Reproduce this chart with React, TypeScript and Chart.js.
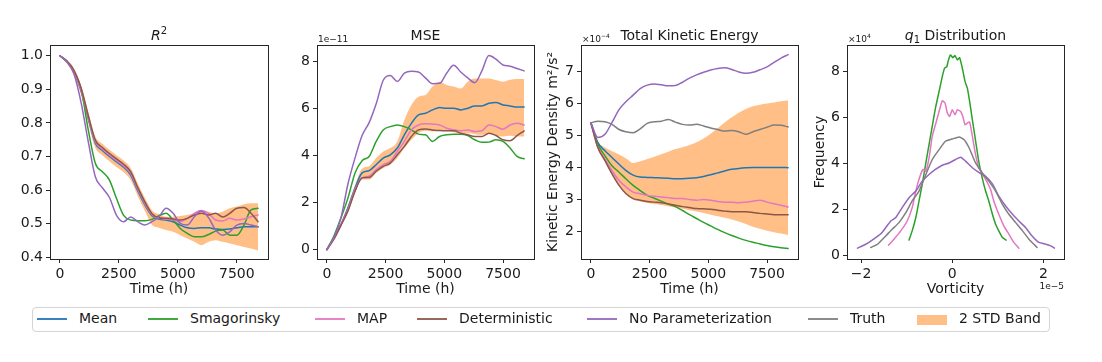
import React, { useEffect, useRef } from "react";
import { Chart, registerables } from "chart.js";
Chart.register(...registerables);

const FONT = "'DejaVu Sans', sans-serif";
const INK = "#1a1a1a";

// ---------- shared axes ----------
const TIME_H = [0, 300, 600, 900, 1200, 1500, 1800, 2100, 2400, 2700, 3000, 3300, 3600, 3900, 4200, 4500, 4800, 5100, 5400, 5700, 6000, 6300, 6600, 6900, 7200, 7500, 7800, 8100, 8400];
const TIME_TICKS = [0, 2500, 5000, 7500];
const TIME_TICK_LABELS = ["0", "2500", "5000", "7500"];

// ---------- R^2 ----------
const R2_MEAN = [1.0, 0.982, 0.951, 0.895, 0.814, 0.74, 0.718, 0.7, 0.684, 0.668, 0.645, 0.598, 0.556, 0.524, 0.514, 0.511, 0.506, 0.496, 0.488, 0.486, 0.488, 0.488, 0.484, 0.483, 0.484, 0.488, 0.491, 0.491, 0.491];
const R2_SMAG = [1.0, 0.982, 0.952, 0.9, 0.78, 0.68, 0.655, 0.63, 0.575, 0.525, 0.511, 0.509, 0.509, 0.513, 0.524, 0.531, 0.511, 0.486, 0.471, 0.461, 0.461, 0.468, 0.478, 0.481, 0.466, 0.466, 0.496, 0.541, 0.546];
const R2_MAP = [1.0, 0.983, 0.953, 0.899, 0.818, 0.744, 0.722, 0.704, 0.688, 0.672, 0.65, 0.603, 0.56, 0.527, 0.516, 0.514, 0.511, 0.506, 0.516, 0.531, 0.539, 0.531, 0.511, 0.508, 0.516, 0.511, 0.514, 0.521, 0.526];
const R2_DET = [1.0, 0.984, 0.956, 0.903, 0.823, 0.749, 0.727, 0.709, 0.693, 0.677, 0.655, 0.608, 0.565, 0.53, 0.518, 0.516, 0.514, 0.511, 0.516, 0.526, 0.531, 0.526, 0.531, 0.52, 0.531, 0.546, 0.548, 0.531, 0.506];
const R2_NOPAR = [1.0, 0.982, 0.945, 0.86, 0.745, 0.64, 0.607, 0.578, 0.525, 0.506, 0.52, 0.506, 0.496, 0.506, 0.521, 0.546, 0.531, 0.501, 0.496, 0.521, 0.538, 0.518, 0.481, 0.466, 0.476, 0.496, 0.501, 0.496, 0.491];
const R2_BAND_UP = [1.0, 0.988, 0.962, 0.912, 0.834, 0.76, 0.738, 0.72, 0.704, 0.688, 0.666, 0.62, 0.577, 0.54, 0.528, 0.521, 0.521, 0.523, 0.526, 0.531, 0.538, 0.536, 0.531, 0.536, 0.546, 0.551, 0.558, 0.561, 0.561];
const R2_BAND_LO = [1.0, 0.976, 0.942, 0.883, 0.8, 0.726, 0.704, 0.686, 0.669, 0.653, 0.63, 0.582, 0.538, 0.497, 0.488, 0.481, 0.476, 0.466, 0.456, 0.446, 0.436, 0.446, 0.451, 0.446, 0.441, 0.436, 0.431, 0.426, 0.42];
const R2_TICKS = [0.4, 0.5, 0.6, 0.7, 0.8, 0.9, 1.0];
const R2_TICK_LABELS = ["0.4", "0.5", "0.6", "0.7", "0.8", "0.9", "1.0"];

// ---------- MSE (x 1e-11) ----------
const MSE_MEAN = [0, 0.51, 1.07, 1.78, 2.62, 3.26, 3.36, 3.61, 3.89, 4.03, 4.32, 4.88, 5.37, 5.73, 5.8, 5.94, 6.04, 6.01, 6.01, 5.94, 6.01, 6.11, 6.11, 6.22, 6.26, 6.15, 6.11, 6.06, 6.06];
const MSE_SMAG = [0, 0.58, 1.35, 2.2, 3.26, 3.78, 3.96, 4.6, 5.09, 5.23, 5.3, 5.23, 5.09, 4.91, 4.88, 4.6, 4.81, 4.88, 4.91, 4.91, 4.85, 4.67, 4.56, 4.57, 4.67, 4.6, 4.32, 3.96, 3.86];
const MSE_MAP = [0, 0.46, 1.05, 1.7, 2.55, 3.05, 3.12, 3.4, 3.61, 3.75, 4.17, 4.6, 5.09, 5.3, 5.35, 5.33, 5.3, 5.16, 5.09, 5.05, 5.09, 5.02, 5.05, 5.3, 5.23, 5.12, 5.3, 5.37, 5.3];
const MSE_DET = [0, 0.44, 1.03, 1.64, 2.48, 3.05, 3.07, 3.33, 3.54, 3.68, 4.03, 4.39, 4.81, 5.09, 5.13, 5.09, 5.06, 5.05, 5.05, 4.95, 4.88, 4.81, 4.81, 4.95, 4.85, 4.67, 4.63, 4.85, 5.05];
const MSE_NOPAR = [0, 0.51, 1.35, 2.8, 3.9, 4.85, 5.4, 6.2, 7.2, 7.4, 7.15, 7.5, 7.58, 7.55, 7.3, 7.05, 7.07, 7.5, 7.84, 7.55, 7.3, 7.1, 7.6, 8.25, 8.1, 7.85, 7.8, 7.7, 7.6];
const MSE_BAND_UP = [0, 0.55, 1.15, 1.9, 2.75, 3.44, 3.54, 3.89, 4.17, 4.32, 4.6, 5.51, 6.15, 6.5, 6.57, 6.93, 7.14, 7.0, 6.93, 6.85, 7.14, 7.28, 7.28, 7.28, 7.21, 7.14, 7.22, 7.25, 7.25];
const MSE_BAND_LO = [0, 0.42, 1.0, 1.6, 2.4, 2.98, 2.98, 3.26, 3.47, 3.61, 3.89, 4.32, 4.67, 4.95, 5.05, 5.02, 5.05, 5.05, 4.99, 4.95, 4.95, 4.91, 4.88, 4.95, 4.85, 4.81, 4.84, 4.81, 4.81];
const MSE_TICKS = [0, 2, 4, 6, 8];
const MSE_TICK_LABELS = ["0", "2", "4", "6", "8"];

// ---------- Total kinetic energy (x 1e-4) ----------
const KE_MEAN = [5.39, 4.77, 4.52, 4.31, 4.1, 3.9, 3.76, 3.7, 3.69, 3.68, 3.67, 3.66, 3.65, 3.65, 3.66, 3.68, 3.72, 3.77, 3.83, 3.89, 3.94, 3.97, 3.99, 4.0, 4.0, 4.0, 4.0, 4.0, 3.99];
const KE_SMAG = [5.39, 4.72, 4.36, 4.05, 3.85, 3.64, 3.44, 3.28, 3.13, 3.04, 2.95, 2.86, 2.78, 2.66, 2.53, 2.41, 2.29, 2.18, 2.07, 1.97, 1.88, 1.8, 1.73, 1.67, 1.62, 1.57, 1.53, 1.5, 1.48];
const KE_MAP = [5.39, 4.62, 4.26, 3.9, 3.59, 3.39, 3.23, 3.18, 3.13, 3.1, 3.08, 3.06, 3.03, 3.03, 3.0, 2.98, 3.0, 2.98, 2.94, 2.92, 2.92, 2.9, 2.92, 2.95, 2.98, 2.92, 2.87, 2.82, 2.77];
const KE_DET = [5.39, 4.62, 4.21, 3.8, 3.44, 3.18, 3.03, 2.98, 2.94, 2.92, 2.9, 2.86, 2.82, 2.78, 2.75, 2.72, 2.71, 2.7, 2.67, 2.64, 2.62, 2.62, 2.62, 2.6, 2.57, 2.55, 2.53, 2.53, 2.53];
const KE_NOPAR = [5.39, 4.93, 5.03, 5.4, 5.8, 6.05, 6.25, 6.45, 6.56, 6.6, 6.57, 6.54, 6.55, 6.65, 6.78, 6.88, 6.96, 7.03, 7.08, 7.1, 7.05, 6.97, 6.93, 6.96, 7.04, 7.13, 7.27, 7.4, 7.51];
const KE_TRUTH = [5.39, 5.44, 5.42, 5.34, 5.18, 5.11, 5.08, 5.2, 5.37, 5.42, 5.44, 5.49, 5.41, 5.34, 5.32, 5.34, 5.29, 5.23, 5.18, 5.13, 5.15, 5.11, 5.03, 5.11, 5.18, 5.25, 5.32, 5.31, 5.26];
const KE_BAND_UP = [5.39, 4.8, 4.62, 4.5, 4.4, 4.28, 4.14, 4.19, 4.26, 4.33, 4.41, 4.49, 4.57, 4.63, 4.7, 4.78, 4.9, 5.05, 5.22, 5.4, 5.56, 5.7, 5.82, 5.9, 5.95, 5.99, 6.02, 6.06, 6.08];
const KE_BAND_LO = [5.39, 4.55, 4.18, 3.78, 3.42, 3.16, 3.0, 2.94, 2.89, 2.86, 2.83, 2.79, 2.75, 2.71, 2.67, 2.63, 2.58, 2.53, 2.48, 2.43, 2.38, 2.32, 2.24, 2.15, 2.09, 2.03, 1.98, 1.94, 1.9];
const KE_TICKS = [2, 3, 4, 5, 6, 7];
const KE_TICK_LABELS = ["2", "3", "4", "5", "6", "7"];

// ---------- q1 distribution (x: 1e-5, y: 1e4) ----------
const Q1_SMAG_X = [-0.95, -0.88, -0.8, -0.73, -0.66, -0.58, -0.51, -0.44, -0.37, -0.29, -0.22, -0.17, -0.12, -0.09, -0.04, 0.01, 0.06, 0.11, 0.16, 0.22, 0.28, 0.33, 0.38, 0.44, 0.51, 0.58, 0.66, 0.73, 0.8, 0.88, 0.95, 1.02, 1.1, 1.18];
const Q1_SMAG_Y = [0.68, 1.08, 1.66, 2.38, 3.1, 4.03, 4.83, 5.62, 6.41, 7.13, 7.78, 8.14, 8.21, 8.46, 8.72, 8.6, 8.69, 8.5, 8.6, 8.14, 7.56, 7.28, 6.7, 5.9, 5.0, 4.1, 3.35, 2.81, 2.38, 1.8, 1.37, 1.08, 0.79, 0.68];
const Q1_MAP_X = [-1.4, -1.28, -1.13, -0.99, -0.88, -0.8, -0.72, -0.64, -0.58, -0.51, -0.44, -0.37, -0.29, -0.22, -0.16, -0.11, -0.06, 0.0, 0.06, 0.11, 0.18, 0.23, 0.28, 0.33, 0.38, 0.44, 0.51, 0.58, 0.69, 0.77, 0.84, 0.91, 1.02, 1.13, 1.24, 1.35, 1.46];
const Q1_MAP_Y = [0.46, 0.72, 1.08, 1.51, 2.09, 2.81, 3.39, 3.75, 3.67, 4.25, 5.19, 5.69, 6.27, 6.73, 6.63, 6.2, 6.05, 6.34, 6.12, 6.34, 6.27, 6.05, 5.69, 5.76, 5.81, 5.19, 4.39, 3.82, 3.46, 3.17, 2.88, 2.38, 1.8, 1.3, 0.94, 0.58, 0.33];
const Q1_NOPAR_X = [-2.08, -1.9, -1.68, -1.54, -1.35, -1.24, -1.1, -0.95, -0.8, -0.66, -0.51, -0.37, -0.22, -0.07, 0.07, 0.18, 0.29, 0.44, 0.58, 0.73, 0.88, 1.02, 1.17, 1.32, 1.46, 1.61, 1.75, 1.9, 2.05, 2.16, 2.24];
const Q1_NOPAR_Y = [0.33, 0.5, 0.79, 1.01, 1.51, 1.66, 2.09, 2.52, 2.81, 3.24, 3.53, 3.75, 3.93, 4.03, 4.18, 4.28, 4.11, 3.82, 3.62, 3.45, 3.12, 2.59, 2.16, 1.8, 1.51, 1.22, 0.86, 0.58, 0.5, 0.43, 0.33];
const Q1_TRUTH_X = [-1.79, -1.64, -1.46, -1.32, -1.17, -1.02, -0.88, -0.73, -0.58, -0.44, -0.29, -0.15, 0.0, 0.15, 0.26, 0.37, 0.51, 0.66, 0.8, 0.95, 1.1, 1.24, 1.39, 1.54, 1.68, 1.79, 1.86];
const Q1_TRUTH_Y = [0.36, 0.5, 0.86, 1.15, 1.44, 1.87, 2.38, 2.81, 3.53, 4.18, 4.61, 4.97, 5.07, 5.16, 5.04, 4.68, 4.03, 3.6, 3.24, 2.81, 2.23, 1.8, 1.44, 1.08, 0.72, 0.5, 0.36];
const Q1_X_TICKS = [-2, 0, 2];
const Q1_X_TICK_LABELS = ["\u22122", "0", "2"];
const Q1_Y_TICKS = [0, 2, 4, 6, 8];
const Q1_Y_TICK_LABELS = ["0", "2", "4", "6", "8"];

// ---------- labels ----------
type Seg = { t: string; it?: boolean; sup?: boolean; sub?: boolean };
const TITLE_R2: Seg[] = [{ t: "R", it: true }, { t: "2", sup: true }];
const TITLE_MSE: Seg[] = [{ t: "MSE" }];
const TITLE_KE: Seg[] = [{ t: "Total Kinetic Energy" }];
const TITLE_Q1: Seg[] = [{ t: "q", it: true }, { t: "1", sub: true }, { t: " Distribution" }];
const OFFSET_MSE: Seg[] = [{ t: "1e\u221211" }];
const OFFSET_KE: Seg[] = [{ t: "\u00d710" }, { t: "\u22124", sup: true }];
const OFFSET_Q1_Y: Seg[] = [{ t: "\u00d710" }, { t: "4", sup: true }];
const OFFSET_Q1_X: Seg[] = [{ t: "1e\u22125" }];
const X_TITLE_TIME = "Time (h)";
const X_TITLE_VORT = "Vorticity";
const Y_TITLE_KE = "Kinetic Energy Density m\u00b2/s\u00b2";
const Y_TITLE_Q1 = "Frequency";

const SERIES = {
  mean: { label: "Mean", color: "#1f77b4" },
  smag: { label: "Smagorinsky", color: "#2ca02c" },
  map: { label: "MAP", color: "#e377c2" },
  det: { label: "Deterministic", color: "#8c564b" },
  nopar: { label: "No Parameterization", color: "#9467bd" },
  truth: { label: "Truth", color: "#7f7f7f" },
};
const BAND_LABEL = "2 STD Band";
const BAND_COLOR = "rgba(255,127,14,0.5)";
const LEGEND_ORDER = ["mean", "smag", "map", "det", "nopar", "truth"];

// ---------- layout (positions only) ----------
const LAYOUT = [
  { canvasLeft: 0, plotLeft: 50, plotRight: 268 },
  { canvasLeft: 280, plotLeft: 317, plotRight: 534 },
  { canvasLeft: 541, plotLeft: 581, plotRight: 798 },
  { canvasLeft: 808, plotLeft: 847, plotRight: 1064 },
];
const PLOT_TOP = 45;
const PLOT_BOTTOM = 259;
const CANVAS_H = 300;
const PAD_RIGHT = 30;
const LEGEND_X = [37, 148, 315, 417, 587, 808, 917];
const LINE_ALPHA = 0.9;

function drawSegs(ctx: CanvasRenderingContext2D, segs: Seg[], x: number, baseline: number, size: number, align: "center" | "left" | "right") {
  const small = Math.round(size * 0.72);
  const fontFor = (s: Seg) => `${s.it ? "italic " : ""}${s.sup || s.sub ? small : size}px ${FONT}`;
  let total = 0;
  for (const s of segs) {
    ctx.font = fontFor(s);
    total += ctx.measureText(s.t).width;
  }
  let cx = align === "center" ? x - total / 2 : align === "right" ? x - total : x;
  ctx.textAlign = "left";
  ctx.textBaseline = "alphabetic";
  ctx.fillStyle = INK;
  for (const s of segs) {
    ctx.font = fontFor(s);
    const dy = s.sup ? -size * 0.42 : s.sub ? size * 0.22 : 0;
    ctx.fillText(s.t, cx, baseline + dy);
    cx += ctx.measureText(s.t).width;
  }
}

const decorPlugin = {
  id: "decor",
  afterDraw(chart: any, _args: any, opts: any) {
    const { ctx, chartArea: a } = chart;
    ctx.save();
    ctx.strokeStyle = "#262626";
    ctx.lineWidth = 1;
    const l = Math.round(a.left) + 0.5;
    const t = Math.round(a.top) + 0.5;
    ctx.strokeRect(l, t, Math.round(a.right) - Math.round(a.left), Math.round(a.bottom) - Math.round(a.top));
    if (opts.title) drawSegs(ctx, opts.title, (a.left + a.right) / 2, a.top - 5, 14, "center");
    if (opts.offsetTop) drawSegs(ctx, opts.offsetTop, a.left + 1, a.top - 3, 9, "left");
    if (opts.offsetBottom) drawSegs(ctx, opts.offsetBottom, a.right, a.bottom + 30, 9, "right");
    ctx.restore();
  },
};

type PanelCfg = {
  idx: number;
  datasets: any[];
  xMin: number; xMax: number; xTicks: number[]; xLabels: string[]; xTitle: string;
  yMin: number; yMax: number; yTicks: number[]; yLabels: string[]; yTitle?: string;
  title: Seg[]; offsetTop?: Seg[]; offsetBottom?: Seg[];
};

function pts(xs: number[], ys: number[]) {
  return xs.map((x, i) => ({ x, y: ys[i] }));
}

function lineDs(key: keyof typeof SERIES, xs: number[], ys: number[], order: number, smooth: boolean) {
  return {
    label: SERIES[key].label,
    data: pts(xs, ys),
    borderColor: SERIES[key].color,
    borderWidth: 1.5,
    pointRadius: 0,
    fill: false,
    order,
    tension: smooth ? 0 : 0.15,
    cubicInterpolationMode: smooth ? "monotone" : "default",
  };
}

function bandDs(xs: number[], up: number[], lo: number[]) {
  return [
    { label: BAND_LABEL, data: pts(xs, up), borderWidth: 0, borderColor: "rgba(0,0,0,0)", backgroundColor: BAND_COLOR, pointRadius: 0, fill: "+1", order: 100, cubicInterpolationMode: "monotone" },
    { label: BAND_LABEL + " lower", data: pts(xs, lo), borderWidth: 0, borderColor: "rgba(0,0,0,0)", backgroundColor: BAND_COLOR, pointRadius: 0, fill: false, order: 100, cubicInterpolationMode: "monotone" },
  ];
}

const tickFont = { family: FONT, size: 14 };

function buildConfig(c: PanelCfg) {
  const L = LAYOUT[c.idx];
  const yW = L.plotLeft - L.canvasLeft;
  const xH = CANVAS_H - PLOT_BOTTOM;
  const grid = { display: true, drawOnChartArea: false, drawTicks: true, tickLength: 4, color: "#262626", lineWidth: 1 };
  return {
    type: "line",
    data: { datasets: c.datasets },
    plugins: [decorPlugin],
    options: {
      responsive: false,
      animation: false,
      events: [],
      layout: { padding: { top: PLOT_TOP, right: PAD_RIGHT, left: 0, bottom: 0 } },
      plugins: {
        legend: { display: false },
        tooltip: { enabled: false },
        decor: { title: c.title, offsetTop: c.offsetTop, offsetBottom: c.offsetBottom },
      },
      scales: {
        x: {
          type: "linear",
          min: c.xMin,
          max: c.xMax,
          afterBuildTicks: (s: any) => { s.ticks = c.xTicks.map((v) => ({ value: v })); },
          afterFit: (s: any) => { s.height = xH; },
          ticks: { callback: (_v: any, i: number) => c.xLabels[i], font: tickFont, color: INK, padding: 3, maxRotation: 0, autoSkip: false },
          grid,
          border: { display: false },
          title: { display: true, text: c.xTitle, font: tickFont, color: INK, padding: { top: 0, bottom: 2 } },
        },
        y: {
          type: "linear",
          min: c.yMin,
          max: c.yMax,
          afterBuildTicks: (s: any) => { s.ticks = c.yTicks.map((v) => ({ value: v })); },
          afterFit: (s: any) => { s.width = yW; },
          ticks: { callback: (_v: any, i: number) => c.yLabels[i], font: tickFont, color: INK, padding: 3, autoSkip: false },
          grid,
          border: { display: false },
          title: { display: !!c.yTitle, text: c.yTitle || "", font: tickFont, color: INK, padding: { top: 4, bottom: 0 } },
        },
      },
      elements: { line: { borderCapStyle: "round" } },
    },
  };
}

const PANELS: PanelCfg[] = [
  {
    idx: 0,
    datasets: [
      ...bandDs(TIME_H, R2_BAND_UP, R2_BAND_LO),
      lineDs("mean", TIME_H, R2_MEAN, 10, true),
      lineDs("smag", TIME_H, R2_SMAG, 9, true),
      lineDs("map", TIME_H, R2_MAP, 8, true),
      lineDs("det", TIME_H, R2_DET, 7, true),
      lineDs("nopar", TIME_H, R2_NOPAR, 6, true),
    ],
    xMin: -420, xMax: 8820, xTicks: TIME_TICKS, xLabels: TIME_TICK_LABELS, xTitle: X_TITLE_TIME,
    yMin: 0.395, yMax: 1.032, yTicks: R2_TICKS, yLabels: R2_TICK_LABELS,
    title: TITLE_R2,
  },
  {
    idx: 1,
    datasets: [
      ...bandDs(TIME_H, MSE_BAND_UP, MSE_BAND_LO),
      lineDs("mean", TIME_H, MSE_MEAN, 10, true),
      lineDs("smag", TIME_H, MSE_SMAG, 9, true),
      lineDs("map", TIME_H, MSE_MAP, 8, true),
      lineDs("det", TIME_H, MSE_DET, 7, true),
      lineDs("nopar", TIME_H, MSE_NOPAR, 6, true),
    ],
    xMin: -420, xMax: 8820, xTicks: TIME_TICKS, xLabels: TIME_TICK_LABELS, xTitle: X_TITLE_TIME,
    yMin: -0.4, yMax: 8.7, yTicks: MSE_TICKS, yLabels: MSE_TICK_LABELS,
    title: TITLE_MSE, offsetTop: OFFSET_MSE,
  },
  {
    idx: 2,
    datasets: [
      ...bandDs(TIME_H, KE_BAND_UP, KE_BAND_LO),
      lineDs("mean", TIME_H, KE_MEAN, 10, true),
      lineDs("smag", TIME_H, KE_SMAG, 9, true),
      lineDs("map", TIME_H, KE_MAP, 8, true),
      lineDs("det", TIME_H, KE_DET, 7, true),
      lineDs("nopar", TIME_H, KE_NOPAR, 6, true),
      lineDs("truth", TIME_H, KE_TRUTH, 5, true),
    ],
    xMin: -420, xMax: 8820, xTicks: TIME_TICKS, xLabels: TIME_TICK_LABELS, xTitle: X_TITLE_TIME,
    yMin: 1.15, yMax: 7.81, yTicks: KE_TICKS, yLabels: KE_TICK_LABELS, yTitle: Y_TITLE_KE,
    title: TITLE_KE, offsetTop: OFFSET_KE,
  },
  {
    idx: 3,
    datasets: [
      lineDs("smag", Q1_SMAG_X, Q1_SMAG_Y, 9, false),
      lineDs("map", Q1_MAP_X, Q1_MAP_Y, 8, false),
      lineDs("nopar", Q1_NOPAR_X, Q1_NOPAR_Y, 6, false),
      lineDs("truth", Q1_TRUTH_X, Q1_TRUTH_Y, 5, false),
    ],
    xMin: -2.31, xMax: 2.45, xTicks: Q1_X_TICKS, xLabels: Q1_X_TICK_LABELS, xTitle: X_TITLE_VORT,
    yMin: -0.14, yMax: 9.15, yTicks: Q1_Y_TICKS, yLabels: Q1_Y_TICK_LABELS, yTitle: Y_TITLE_Q1,
    title: TITLE_Q1, offsetTop: OFFSET_Q1_Y, offsetBottom: OFFSET_Q1_X,
  },
];

function Panel({ cfg }: { cfg: PanelCfg }) {
  const ref = useRef<HTMLCanvasElement | null>(null);
  const L = LAYOUT[cfg.idx];
  const width = L.plotRight + PAD_RIGHT - L.canvasLeft;
  useEffect(() => {
    const chart = new Chart(ref.current as HTMLCanvasElement, buildConfig(cfg) as any);
    return () => chart.destroy();
  }, []);
  return (
    <canvas
      ref={ref}
      width={width}
      height={CANVAS_H}
      style={{ position: "absolute", left: L.canvasLeft, top: 0, width, height: CANVAS_H }}
    />
  );
}

function Legend() {
  const items = [
    ...LEGEND_ORDER.map((k) => ({ label: (SERIES as any)[k].label as string, color: (SERIES as any)[k].color as string, patch: false })),
    { label: BAND_LABEL, color: BAND_COLOR, patch: true },
  ];
  return (
    <>
      <div
        style={{
          position: "absolute", left: 32, top: 307, width: 1018, height: 25,
          border: "1px solid #d4d4d4", borderRadius: 4, boxSizing: "border-box", background: "#fff",
        }}
      />
      {items.map((it, i) => (
        <React.Fragment key={it.label}>
          <div
            style={{
              position: "absolute", left: LEGEND_X[i], width: 30,
              top: it.patch ? 315 : 318, height: it.patch ? 10 : 2,
              background: it.color, opacity: it.patch ? 1 : LINE_ALPHA,
            }}
          />
          <div
            style={{
              position: "absolute", left: LEGEND_X[i] + 42, top: 310, height: 19, lineHeight: "19px",
              font: `14px ${FONT}`, color: INK, whiteSpace: "nowrap",
            }}
          >
            {it.label}
          </div>
        </React.Fragment>
      ))}
    </>
  );
}

export default function App() {
  return (
    <div style={{ position: "absolute", left: 0, top: 0, width: 1102, height: 362, background: "#fff", overflow: "hidden" }}>
      {PANELS.map((p) => (
        <Panel key={p.idx} cfg={p} />
      ))}
      <Legend />
    </div>
  );
}
